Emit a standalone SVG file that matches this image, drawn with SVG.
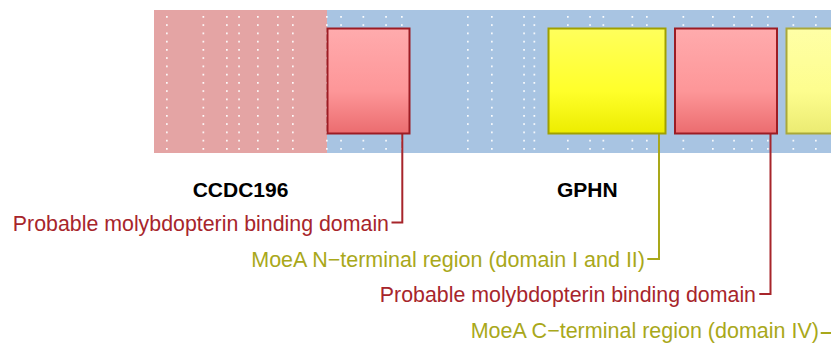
<svg xmlns="http://www.w3.org/2000/svg" width="831" height="344" viewBox="0 0 831 344">
<style>
.title{font-family:"Liberation Sans",Arial,sans-serif;font-size:21px;font-weight:bold;fill:#000;text-anchor:middle}
.lab{font-family:"Liberation Sans",Arial,sans-serif;font-size:21.5px;text-anchor:end}
.red{fill:#a7252b;font-size:21.35px}
.olive{fill:#a9a81a}
.cred{fill:none;stroke:#a7252b;stroke-width:2}
.colive{fill:none;stroke:#a9a81a;stroke-width:2}
.dots{fill:url(#rows)}
.pinkbox{fill:url(#gPink);stroke:#9c1c24;stroke-width:2}
.ybox{fill:url(#gYel);stroke:#a0a000;stroke-width:2}
.lybox{fill:url(#gLYel);stroke:#a9a83a;stroke-width:2}
</style>
<defs>
<pattern id="rows" patternUnits="userSpaceOnUse" x="0" y="16" width="831" height="8.25">
<rect x="0" y="0" width="831" height="1.7" fill="#ffffff" fill-opacity="0.95"/>
</pattern>
<linearGradient id="gPink" x1="0" y1="0" x2="0" y2="1">
<stop offset="0" stop-color="#ffabad"/>
<stop offset="0.6" stop-color="#fd9698"/>
<stop offset="1" stop-color="#eb6c6f"/>
</linearGradient>
<linearGradient id="gYel" x1="0" y1="0" x2="0" y2="1">
<stop offset="0" stop-color="#ffff5c"/>
<stop offset="0.6" stop-color="#ffff2a"/>
<stop offset="1" stop-color="#ecec00"/>
</linearGradient>
<linearGradient id="gLYel" x1="0" y1="0" x2="0" y2="1">
<stop offset="0" stop-color="#ffffa6"/>
<stop offset="0.6" stop-color="#fdfd8e"/>
<stop offset="1" stop-color="#ebeb72"/>
</linearGradient>
</defs>
<g id="bands">
<rect x="154" y="10" width="173" height="143" fill="#e4a4a4"/>
<rect x="327" y="10" width="504" height="143" fill="#a8c4e2"/>
</g>
<g id="grid">
<rect class="dots" x="166" y="16" width="1.7" height="134"/>
<rect class="dots" x="202.5" y="16" width="1.7" height="134"/>
<rect class="dots" x="226" y="16" width="1.7" height="134"/>
<rect class="dots" x="238.2" y="16" width="1.7" height="134"/>
<rect class="dots" x="257" y="16" width="1.7" height="134"/>
<rect class="dots" x="277" y="16" width="1.7" height="134"/>
<rect class="dots" x="292" y="16" width="1.7" height="134"/>
<rect class="dots" x="326" y="16" width="1.7" height="134"/>
<rect class="dots" x="340.2" y="16" width="1.7" height="134"/>
<rect class="dots" x="362.5" y="16" width="1.7" height="134"/>
<rect class="dots" x="385.2" y="16" width="1.7" height="134"/>
<rect class="dots" x="401" y="16" width="1.7" height="134"/>
<rect class="dots" x="467" y="16" width="1.7" height="134"/>
<rect class="dots" x="491" y="16" width="1.7" height="134"/>
<rect class="dots" x="523.2" y="16" width="1.7" height="134"/>
<rect class="dots" x="533.5" y="16" width="1.7" height="134"/>
<rect class="dots" x="567" y="16" width="1.7" height="134"/>
<rect class="dots" x="589.2" y="16" width="1.7" height="134"/>
<rect class="dots" x="602.5" y="16" width="1.7" height="134"/>
<rect class="dots" x="631.5" y="16" width="1.7" height="134"/>
<rect class="dots" x="646" y="16" width="1.7" height="134"/>
<rect class="dots" x="682.5" y="16" width="1.7" height="134"/>
<rect class="dots" x="712" y="16" width="1.7" height="134"/>
<rect class="dots" x="733.2" y="16" width="1.7" height="134"/>
<rect class="dots" x="751" y="16" width="1.7" height="134"/>
<rect class="dots" x="767" y="16" width="1.7" height="134"/>
<rect class="dots" x="792.5" y="16" width="1.7" height="134"/>
<rect class="dots" x="815" y="16" width="1.7" height="134"/>
</g>
<g id="connectors">
<path class="cred" d="M391.5,222.5 H402.3 V134"/>
<path class="colive" d="M647.3,259 H659 V134"/>
<path class="cred" d="M759.3,294 H770.5 V134"/>
<path class="colive" d="M820.7,333 H840"/>
</g>
<g id="domain1">
<rect class="pinkbox" x="327.5" y="28.5" width="82" height="105"/>
</g>
<g id="domain2">
<rect class="ybox" x="548.5" y="28.5" width="117" height="105"/>
</g>
<g id="domain3">
<rect class="pinkbox" x="675" y="28.5" width="102" height="105"/>
</g>
<g id="domain4">
<rect class="lybox" x="786.5" y="28.5" width="80" height="105"/>
</g>
<g id="titles">
<text class="title" x="240.5" y="196.5">CCDC196</text>
<text class="title" x="587.3" y="196.5">GPHN</text>
</g>
<g id="labels">
<text class="lab red" x="389" y="231">Probable molybdopterin binding domain</text>
<text class="lab olive" x="645" y="267">MoeA N−terminal region (domain I and II)</text>
<text class="lab red" x="756" y="302">Probable molybdopterin binding domain</text>
<text class="lab olive" x="819" y="338">MoeA C−terminal region (domain IV)</text>
</g>
</svg>
